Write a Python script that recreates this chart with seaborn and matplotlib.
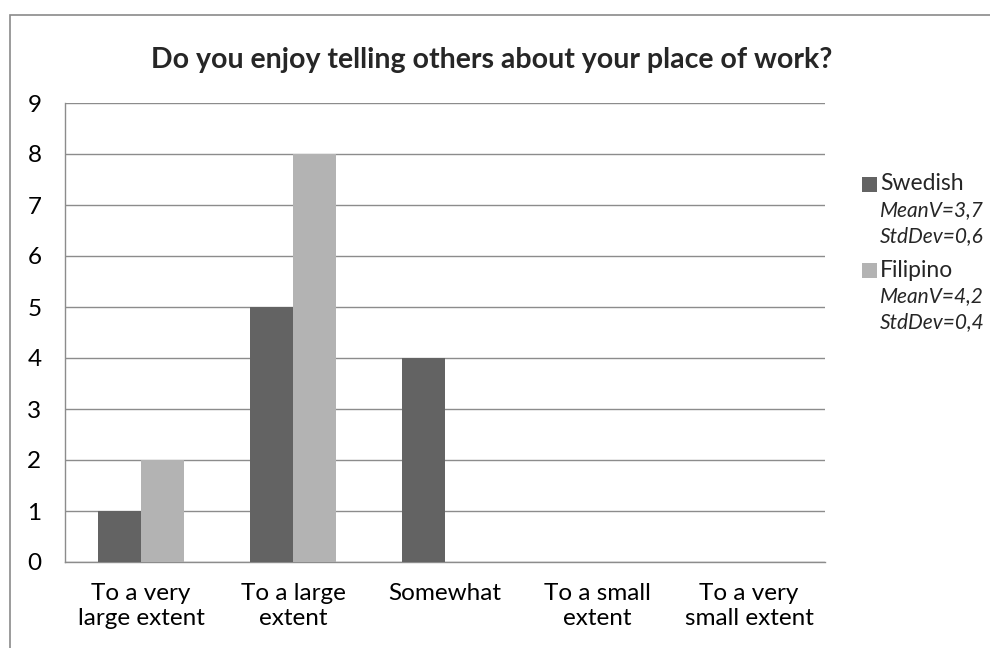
import matplotlib
matplotlib.use("Agg")
import matplotlib.pyplot as plt
import matplotlib.patches as mpatches
import seaborn as sns
import pandas as pd

categories = ["To a very\nlarge extent", "To a large\nextent", "Somewhat",
              "To a small\nextent", "To a very\nsmall extent"]
swedish = [1, 5, 4, 0, 0]
filipino = [2, 8, 0, 0, 0]
series = ["Swedish", "Filipino"]
stats = {"Swedish": ["MeanV=3,7", "StdDev=0,6"],
         "Filipino": ["MeanV=4,2", "StdDev=0,4"]}
colors = ["#636363", "#b3b3b3"]
title = "Do you enjoy telling others about your place of work?"

df = pd.DataFrame({
    "category": categories * 2,
    "value": swedish + filipino,
    "series": [series[0]] * len(categories) + [series[1]] * len(categories),
})

sns.set_theme(style="white")
plt.rcParams["font.family"] = ["Lato", "DejaVu Sans"]

fig = plt.figure(figsize=(9.9, 6.48), dpi=100)
W, H = 990, 648
ax = fig.add_axes([65 / W, 1 - 562 / H, (825 - 65) / W, (562 - 103) / H])

sns.barplot(data=df, x="category", y="value", hue="series", order=categories,
            hue_order=series, palette=colors, width=0.57, saturation=1,
            linewidth=0, ax=ax, legend=False, zorder=3)

ax.set_ylim(0, 9)
ax.set_xlim(-0.5, len(categories) - 0.5)
ax.set_yticks(range(0, 10))
ax.yaxis.grid(True, color="#8c8c8c", linewidth=1.0, zorder=0)
ax.set_axisbelow(True)
ax.set_xlabel("")
ax.set_ylabel("")
ax.tick_params(axis="both", length=0, labelsize=17.5, colors="black")
ax.tick_params(axis="x", pad=15)
ax.tick_params(axis="y", pad=17)
for lbl in ax.get_xticklabels():
    lbl.set_linespacing(1.25)
for side in ["top", "right"]:
    ax.spines[side].set_visible(False)
ax.spines["left"].set_color("#8c8c8c")
ax.spines["bottom"].set_color("#8c8c8c")
ax.spines["left"].set_linewidth(1.0)
ax.spines["bottom"].set_linewidth(1.0)

fig.text(492 / W, 1 - 60 / H, title, ha="center", va="center",
         fontsize=20.5, fontweight="bold")

# Legend with per-series statistics underneath
for i, name in enumerate(series):
    y0 = 184 + i * 86
    fig.patches.append(mpatches.Rectangle((862 / W, 1 - (y0 + 8) / H), 15 / W, 15 / H,
                                          transform=fig.transFigure,
                                          facecolor=colors[i], edgecolor="none"))
    fig.text(880 / W, 1 - y0 / H, name, ha="left", va="center", fontsize=16.5)
    for j, s in enumerate(stats[name]):
        fig.text(880 / W, 1 - (y0 + 26 * (j + 1)) / H, s, ha="left", va="center",
                 fontsize=15, style="italic")

# Outer chart frame
fig.patches.append(mpatches.Rectangle((10 / W, -0.1), 1.2, 1.1 - 15 / H,
                                      transform=fig.transFigure, fill=False,
                                      edgecolor="#8a8a8a", linewidth=1.2))

fig.savefig("out.png", dpi=100)
